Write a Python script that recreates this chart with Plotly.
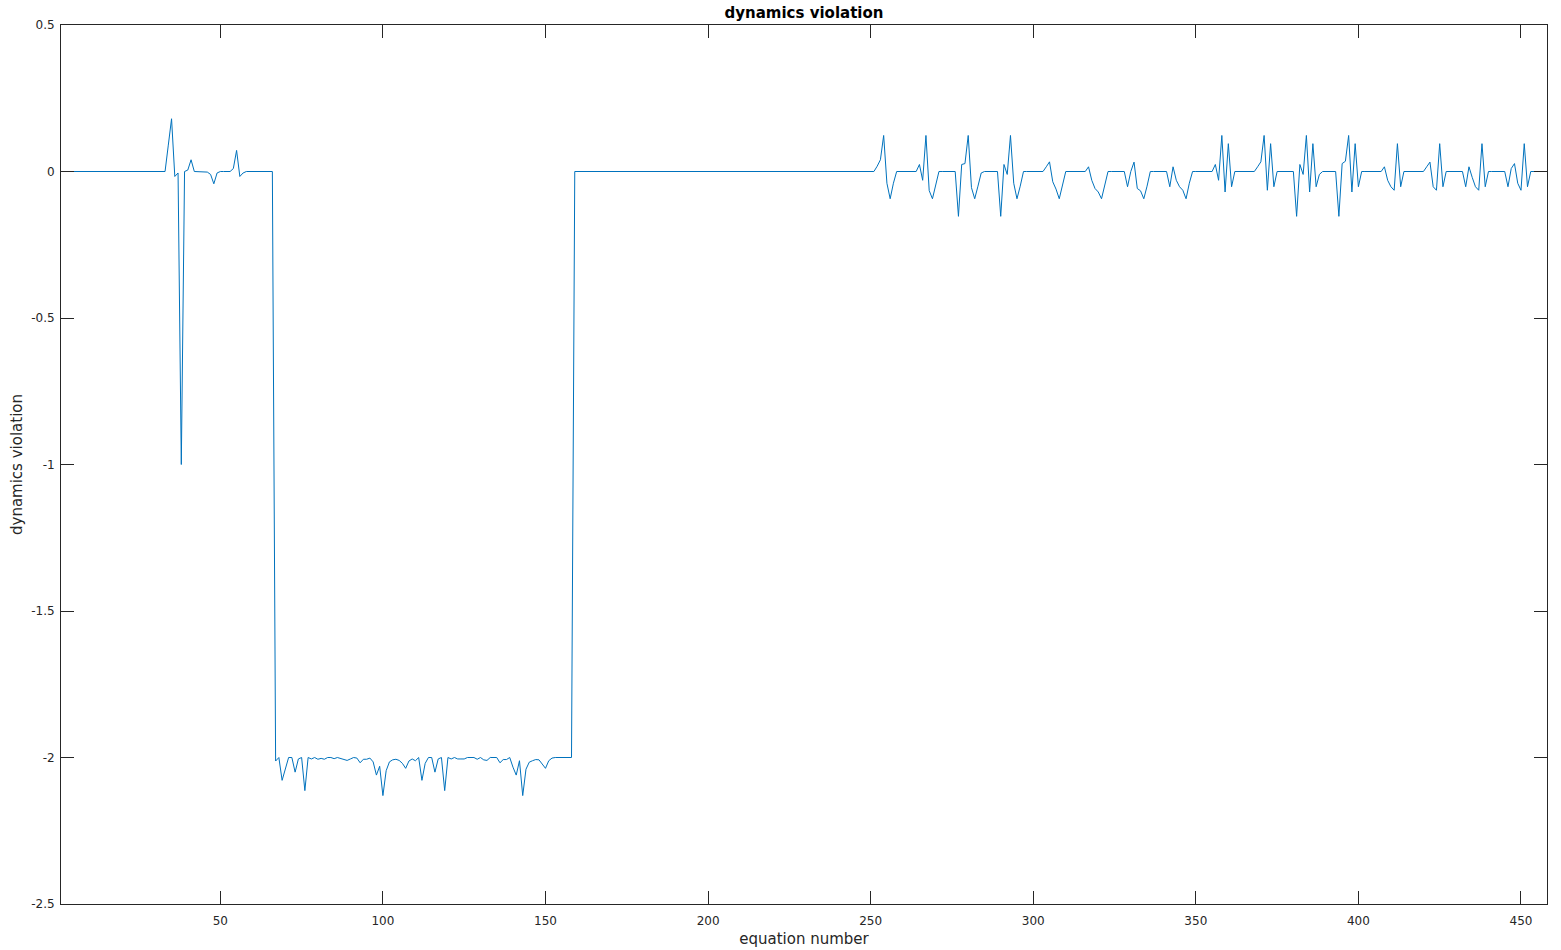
import plotly.graph_objects as go

# ---- data ----
# x = 1..32 flat at zero
seg_start = [0.0] * 32
# x = 33..66 : early disturbance
seg_early = [0.0, 0.09, 0.18, -0.017, -0.005, -1.0, 0.0, 0.005, 0.04, 0.0,
             0.0, 0.0, 0.0, -0.002, -0.01, -0.042, -0.005, 0.0, 0.0, 0.0,
             0.0, 0.01, 0.072, -0.017, -0.005, 0.0, 0.0, 0.0, 0.0, 0.0,
             0.0, 0.0, 0.0, 0.0]
# x = 67..109 : first low block
seg_low_a = [-2.012, -2.0, -2.078, -2.035, -2.0, -2.0, -2.05, -2.005, -2.0, -2.113,
             -2.0, -2.005, -2.0, -2.006, -2.003, -2.006, -2.0, -2.0, -2.004, -2.0,
             -2.004, -2.008, -2.01, -2.005, -2.0, -2.002, -2.018, -2.006, -2.006, -2.002,
             -2.015, -2.06, -2.03, -2.13, -2.045, -2.015, -2.008, -2.006, -2.01, -2.02,
             -2.037, -2.012, -2.005]
# x = 110..152 : second low block
seg_low_b = [-2.011, -2.0, -2.078, -2.02, -2.0, -2.0, -2.05, -2.005, -2.0, -2.113,
             -2.0, -2.005, -2.0, -2.005, -2.005, -2.005, -2.0, -2.0, -2.0, -2.006,
             -2.0, -2.008, -2.01, -2.0, -2.0, -2.0, -2.018, -2.007, -2.007, -2.0,
             -2.033, -2.06, -2.011, -2.13, -2.04, -2.016, -2.011, -2.007, -2.008, -2.022,
             -2.037, -2.011, -2.002]
# x = 153..158
seg_low_end = [-2.0, -2.0, -2.0, -2.0, -2.0, -2.0]
# x = 159..250 flat at zero
seg_mid = [0.0] * 92
# x = 251..458 : oscillating tail
seg_tail = [
    # 251-260
    0.0, 0.018, 0.04, 0.123, -0.04, -0.093, -0.04, 0.0, 0.0, 0.0,
    # 261-270
    0.0, 0.0, 0.0, 0.0, 0.024, -0.03, 0.123, -0.065, -0.093, -0.05,
    # 271-280
    0.0, 0.0, 0.0, 0.0, 0.0, 0.0, -0.153, 0.024, 0.027, 0.123,
    # 281-290
    -0.055, -0.093, -0.05, -0.005, 0.0, 0.0, 0.0, 0.0, 0.0, -0.153,
    # 291-300
    0.024, -0.01, 0.123, -0.04, -0.093, -0.05, 0.0, 0.0, 0.0, 0.0,
    # 301-310
    0.0, 0.0, 0.0, 0.016, 0.033, -0.035, -0.06, -0.093, -0.045, 0.0,
    # 311-320
    0.0, 0.0, 0.0, 0.0, 0.0, 0.0, 0.016, -0.03, -0.058, -0.07,
    # 321-330
    -0.093, -0.05, 0.0, 0.0, 0.0, 0.0, 0.0, 0.0, -0.052, 0.0,
    # 331-340
    0.032, -0.058, -0.066, -0.093, -0.05, 0.0, 0.0, 0.0, 0.0, 0.0,
    # 341-350
    0.0, -0.052, 0.016, -0.03, -0.052, -0.064, -0.093, -0.04, 0.0, 0.0,
    # 351-360
    0.0, 0.0, 0.0, 0.0, 0.0, 0.024, -0.03, 0.123, -0.07, 0.095,
    # 361-370
    -0.052, 0.0, 0.0, 0.0, 0.0, 0.0, 0.0, 0.0, 0.016, 0.033,
    # 371-380
    0.123, -0.064, 0.095, -0.052, 0.0, 0.0, 0.0, 0.0, 0.0, 0.0,
    # 381-390
    -0.153, 0.024, -0.01, 0.123, -0.07, 0.095, -0.052, -0.01, 0.0, 0.0,
    # 391-400
    0.0, 0.0, 0.0, -0.153, 0.027, 0.035, 0.123, -0.07, 0.095, -0.052,
    # 401-410
    0.0, 0.0, 0.0, 0.0, 0.0, 0.0, 0.0, 0.016, -0.03, -0.052,
    # 411-420
    -0.064, 0.095, -0.052, 0.0, 0.0, 0.0, 0.0, 0.0, 0.0, 0.0,
    # 421-430
    0.016, 0.032, -0.052, -0.064, 0.095, -0.052, 0.0, 0.0, 0.0, 0.0,
    # 431-440
    0.0, 0.0, -0.052, 0.016, -0.02, -0.052, -0.064, 0.095, -0.052, 0.0,
    # 441-450
    0.0, 0.0, 0.0, 0.0, 0.0, -0.052, 0.01, 0.027, -0.04, -0.064,
    # 451-458
    0.095, -0.052, 0.0, 0.0, 0.0, 0.0, 0.0, 0.0,
]

violation = seg_start + seg_early + seg_low_a + seg_low_b + seg_low_end + seg_mid + seg_tail
equation = list(range(1, len(violation) + 1))

x_ticks = [50, 100, 150, 200, 250, 300, 350, 400, 450]
y_ticks = [-2.5, -2, -1.5, -1, -0.5, 0, 0.5]
y_tick_text = ["-2.5", "-2", "-1.5", "-1", "-0.5", "0", "0.5"]

# ---- figure ----
axis_col = "#262626"
font_family = "DejaVu Sans, sans-serif"
W, H = 1561, 950

fig = go.Figure()
fig.add_trace(go.Scatter(
    x=equation, y=violation, mode="lines",
    line=dict(color="rgb(0,114,189)", width=1),
    showlegend=False, hoverinfo="x+y",
))

fig.update_layout(
    width=W, height=H,
    margin=dict(l=61, r=14, t=25, b=46),
    paper_bgcolor="white", plot_bgcolor="white",
    font=dict(family=font_family, size=12, color=axis_col),
    title=dict(text="<b>dynamics violation</b>", x=0.5, xref="paper", xanchor="center",
               y=1 - 12.5 / H, yanchor="middle",
               font=dict(family=font_family, size=15, color="black")),
)
fig.update_xaxes(
    range=[1, len(violation)], tickvals=x_ticks,
    ticks="inside", ticklen=13, tickwidth=1, tickcolor=axis_col,
    showline=True, linecolor=axis_col, linewidth=1, mirror="ticks",
    showgrid=False, zeroline=False, ticklabelstandoff=6, automargin=False,
    tickfont=dict(size=12, color=axis_col),
    title=dict(text="equation number", font=dict(size=15, color=axis_col), standoff=6),
)
fig.update_yaxes(
    range=[-2.5, 0.5], tickvals=y_ticks, ticktext=y_tick_text,
    ticks="inside", ticklen=13, tickwidth=1, tickcolor=axis_col,
    showline=True, linecolor=axis_col, linewidth=1, mirror="ticks",
    showgrid=False, zeroline=False, ticklabelstandoff=3, automargin=False,
    tickfont=dict(size=12, color=axis_col),
    title=dict(text="dynamics violation", font=dict(size=15, color=axis_col), standoff=4),
)

fig.write_html("out.html", config={"displayModeBar": False},
               post_script="document.body.style.margin='0';")
